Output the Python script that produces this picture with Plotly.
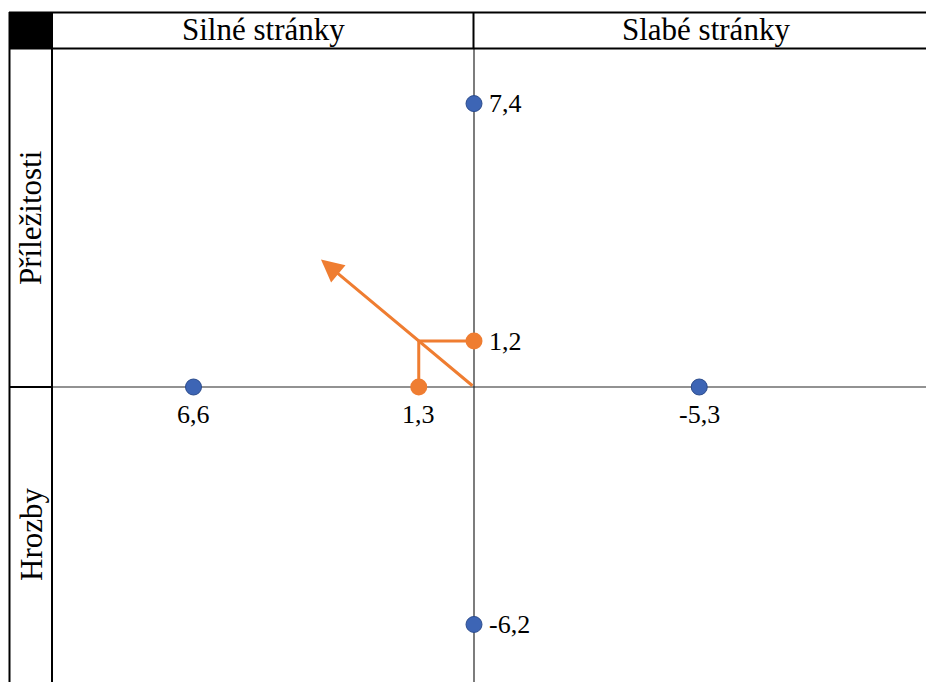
import plotly.graph_objects as go

OFF = 0
W, H = 926, 682

# ---- data ----
col_headers = ["Silné stránky", "Slabé stránky"]
row_headers = ["Příležitosti", "Hrozby"]

# internal factors on the horizontal axis (strengths positive to the left)
h_values = [6.6, -5.3]
h_labels = ["6,6", "-5,3"]
# external factors on the vertical axis
v_values = [7.4, -6.2]
v_labels = ["7,4", "-6,2"]

# resulting position (orange)
res_x = 1.3
res_y = 1.2
res_x_label = "1,3"
res_y_label = "1,2"
arrow_tip = [3.6, 3.33]

BLUE = "#3d65b5"
BLUE_EDGE = "#2c4c8c"
ORANGE = "#ef7d31"
FONT = "Liberation Serif, Times New Roman, Tinos, DejaVu Serif, serif"

# ---- layout geometry (reference-screen pixels) ----
plot_left, plot_top = 52, 48
bottom_px = OFF + H
zero_x_px, zero_y_px = 474, 387
kx, ky = 42.5, 38.3
x_left = (zero_x_px - plot_left) / kx
x_right = -(OFF + W - zero_x_px) / kx
y_top = (zero_y_px - plot_top) / ky
y_bottom = -(bottom_px - zero_y_px) / ky


def px(x):
    return (x - OFF) / W


def py(y):
    return 1 - (y - OFF) / H


fig = go.Figure()

# blue points on horizontal axis
fig.add_trace(go.Scatter(
    x=h_values, y=[0] * len(h_values), mode="markers",
    marker=dict(color=BLUE, size=16, line=dict(color=BLUE_EDGE, width=1)),
    hoverinfo="skip", showlegend=False))
# blue points on vertical axis
fig.add_trace(go.Scatter(
    x=[0] * len(v_values), y=v_values, mode="markers",
    marker=dict(color=BLUE, size=16, line=dict(color=BLUE_EDGE, width=1)),
    hoverinfo="skip", showlegend=False))

# orange construction lines
fig.add_trace(go.Scatter(
    x=[res_x, res_x, 0], y=[0, res_y, res_y], mode="lines",
    line=dict(color=ORANGE, width=3), hoverinfo="skip", showlegend=False))
fig.add_trace(go.Scatter(
    x=[res_x, 0], y=[0, res_y], mode="markers",
    marker=dict(color=ORANGE, size=17), hoverinfo="skip", showlegend=False))

annotations = []
# arrow
annotations.append(dict(
    x=arrow_tip[0], y=arrow_tip[1], ax=0, ay=0, xref="x", yref="y",
    axref="x", ayref="y", text="", showarrow=True, arrowhead=2,
    arrowsize=1.5, arrowwidth=3, arrowcolor=ORANGE))

label_font = dict(family=FONT, size=26, color="black")
for v, t in zip(h_values + [res_x], h_labels + [res_x_label]):
    annotations.append(dict(x=v, y=0, xref="x", yref="y", text=t,
                            showarrow=False, xanchor="center", yanchor="top",
                            yshift=-11, font=label_font))
for v, t in zip(v_values + [res_y], v_labels + [res_y_label]):
    annotations.append(dict(x=0, y=v, xref="x", yref="y", text=t,
                            showarrow=False, xanchor="left", yanchor="middle",
                            xshift=13, font=label_font))

head_font = dict(family=FONT, size=31, color="black")
annotations.append(dict(x=px(263), y=py(30), xref="paper", yref="paper",
                        text=col_headers[0], showarrow=False, xanchor="center",
                        yanchor="middle", font=head_font))
annotations.append(dict(x=px(706), y=py(30), xref="paper", yref="paper",
                        text=col_headers[1], showarrow=False, xanchor="center",
                        yanchor="middle", font=head_font))
annotations.append(dict(x=px(31), y=py(218), xref="paper", yref="paper",
                        text=row_headers[0], showarrow=False, textangle=-90,
                        xanchor="center", yanchor="middle", font=head_font))
annotations.append(dict(x=px(31), y=py(535), xref="paper", yref="paper",
                        text=row_headers[1], showarrow=False, textangle=-90,
                        xanchor="center", yanchor="middle", font=head_font))

shapes = []


def hline(x0, x1, y, w=2, c="black", layer="above"):
    shapes.append(dict(type="line", xref="paper", yref="paper",
                       x0=px(x0), x1=px(x1), y0=py(y), y1=py(y),
                       line=dict(color=c, width=w), layer=layer))


def vline(x, y0, y1, w=2, c="black", layer="above"):
    shapes.append(dict(type="line", xref="paper", yref="paper",
                       x0=px(x), x1=px(x), y0=py(y0), y1=py(y1),
                       line=dict(color=c, width=w), layer=layer))


# black corner cell
shapes.append(dict(type="rect", xref="paper", yref="paper",
                   x0=px(9), x1=px(52), y0=py(12), y1=py(48),
                   fillcolor="black", line=dict(width=0)))
hline(9, 940, 12.5)
hline(9, 940, 48.5)
vline(9.5, 12, 700)
vline(52, 12, 700)
vline(473.5, 12, 48)
hline(9, 52, 387)

# axes through the origin
shapes.append(dict(type="line", xref="x", yref="y", x0=x_left, x1=x_right,
                   y0=0, y1=0, line=dict(color="#262626", width=1.2), layer="below"))
shapes.append(dict(type="line", xref="x", yref="y", x0=0, x1=0,
                   y0=y_bottom, y1=y_top, line=dict(color="#262626", width=1.2), layer="below"))

fig.update_layout(
    width=W, height=H, margin=dict(l=0, r=0, t=0, b=0),
    paper_bgcolor="white", plot_bgcolor="white",
    xaxis=dict(domain=[px(plot_left), 1], range=[x_left, x_right],
               visible=False, fixedrange=True),
    yaxis=dict(domain=[0, py(plot_top)], range=[y_bottom, y_top],
               visible=False, fixedrange=True),
    annotations=annotations, shapes=shapes, showlegend=False,
)

fig.write_html("out.html",
               config={"displayModeBar": False},
               post_script="document.body.style.margin='0';"
                           "document.body.style.overflow='hidden';")
